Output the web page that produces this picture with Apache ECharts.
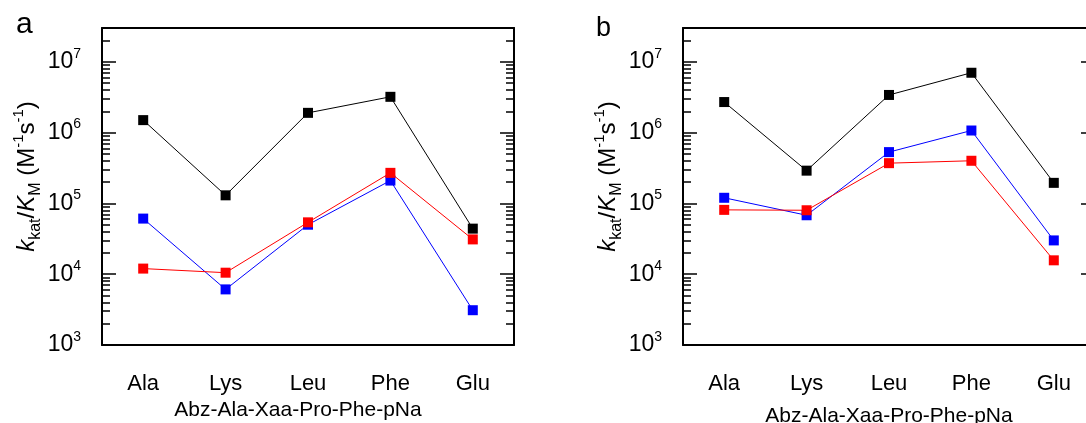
<!DOCTYPE html>
<html>
<head>
<meta charset="utf-8">
<script src="https://cdn.jsdelivr.net/npm/echarts@6/dist/echarts.min.js"></script>
<style>
  html, body { margin: 0; padding: 0; background: #fff; }
  #chart { width: 1086px; height: 423px; }
</style>
</head>
<body>
<div id="chart"></div>
<script>
// Substrate positions Xaa in Abz-Ala-Xaa-Pro-Phe-pNa
const categories = ['Ala', 'Lys', 'Leu', 'Phe', 'Glu'];

// kcat/KM (M^-1 s^-1), panel a
const aBlack = [1.5e6, 1.3e5, 1.9e6, 3.2e6, 4.4e4];
const aBlue  = [6.1e4, 6.1e3, 5.0e4, 2.1e5, 3.1e3];
const aRed   = [1.2e4, 1.05e4, 5.4e4, 2.7e5, 3.1e4];

// kcat/KM (M^-1 s^-1), panel b
const bBlack = [2.7e6, 2.9e5, 3.4e6, 7.0e6, 1.95e5];
const bBlue  = [1.2e5, 6.8e4, 5.3e5, 1.07e6, 3.0e4];
const bRed   = [8.1e4, 8.0e4, 3.7e5, 4.0e5, 1.57e4];

// Log axis range and tick values
const yMin = 1e3;
const yMax = 3e7;
const decadeTicks = [1e3, 1e4, 1e5, 1e6, 1e7];
const minorTicks = [];
for (let e = 3; e <= 7; e++) {
  for (let m = 2; m <= 9; m++) {
    const v = m * Math.pow(10, e);
    if (v <= yMax) minorTicks.push(v);
  }
}

const FONT = 'Liberation Sans, Arial, Helvetica, sans-serif';
const AXIS_W = 2;
const TICK_W = 1.5;

const yTitle = '{i|k}{sub|kat}{n|/}{i|K}{sub|M}{n| (M}{sup|-1}{n|s}{sup|-1}{n|)}';
const yTitleRich = {
  i:   { fontFamily: FONT, fontSize: 24, fontStyle: 'italic', color: '#000', lineHeight: 32 },
  n:   { fontFamily: FONT, fontSize: 24, color: '#000', lineHeight: 32 },
  sub: { fontFamily: FONT, fontSize: 16, color: '#000', verticalAlign: 'bottom', lineHeight: 20 },
  sup: { fontFamily: FONT, fontSize: 15, color: '#000', verticalAlign: 'top', lineHeight: 18 }
};

// Fixed plot boxes; the right panel's frame runs just past the canvas edge
const grids = [
  { left: 102, top: 28, width: 412, height: 317, outerBoundsMode: 'none', containLabel: false },
  { left: 683, top: 28, width: 412, height: 317, outerBoundsMode: 'none', containLabel: false }
];

const xAxes = [];
const yAxes = [];
const series = [];

function addPanel(gi, black, blue, red, nameGap, namePad) {
  // bottom category axis
  xAxes.push({
    gridIndex: gi, type: 'category', data: categories, position: 'bottom',
    boundaryGap: true,
    axisLine: { lineStyle: { color: '#000', width: AXIS_W } },
    axisTick: { inside: true, length: 12, interval: 0, lineStyle: { color: '#000', width: TICK_W } },
    axisLabel: { interval: 0, margin: 28, color: '#000', fontFamily: FONT, fontSize: 22 },
    name: 'Abz-Ala-Xaa-Pro-Phe-pNa', nameLocation: 'middle', nameGap: nameGap,
    nameTextStyle: { color: '#000', fontFamily: FONT, fontSize: 21, padding: namePad },
    splitLine: { show: false }
  });
  // top frame with boundary ticks
  xAxes.push({
    gridIndex: gi, type: 'category', data: categories, position: 'top',
    boundaryGap: true,
    axisLine: { lineStyle: { color: '#000', width: AXIS_W } },
    axisTick: { inside: true, length: 12, interval: 0, lineStyle: { color: '#000', width: TICK_W } },
    axisLabel: { show: false },
    splitLine: { show: false }
  });
  const yBase = { gridIndex: gi, type: 'log', logBase: 10, min: yMin, max: yMax, splitLine: { show: false } };
  const mainIdx = yAxes.length;
  // left axis: decades with labels
  yAxes.push(Object.assign({}, yBase, {
    position: 'left',
    axisLine: { show: true, lineStyle: { color: '#000', width: AXIS_W } },
    axisTick: { show: true, inside: true, length: 14, customValues: decadeTicks, lineStyle: { color: '#000', width: TICK_W } },
    axisLabel: {
      customValues: decadeTicks, margin: 21,
      formatter: v => '{b|10}{s|' + Math.round(Math.log10(v)) + '}',
      rich: {
        b: { fontFamily: FONT, fontSize: 23, color: '#000', lineHeight: 30 },
        s: { fontFamily: FONT, fontSize: 14, color: '#000', verticalAlign: 'top', lineHeight: 18 }
      }
    },
    name: yTitle, nameLocation: 'middle', nameRotate: 90, nameGap: 58,
    nameTextStyle: { rich: yTitleRich, padding: [0, 0, 0, 20] }
  }));
  // left axis: minor ticks
  yAxes.push(Object.assign({}, yBase, {
    position: 'left',
    axisLine: { show: false },
    axisTick: { show: true, inside: true, length: 8, customValues: minorTicks, lineStyle: { color: '#000', width: TICK_W } },
    axisLabel: { show: false }
  }));
  // right axis: decades
  yAxes.push(Object.assign({}, yBase, {
    position: 'right',
    axisLine: { show: true, lineStyle: { color: '#000', width: AXIS_W } },
    axisTick: { show: true, inside: true, length: 14, customValues: decadeTicks, lineStyle: { color: '#000', width: TICK_W } },
    axisLabel: { show: false }
  }));
  // right axis: minor ticks
  yAxes.push(Object.assign({}, yBase, {
    position: 'right',
    axisLine: { show: false },
    axisTick: { show: true, inside: true, length: 8, customValues: minorTicks, lineStyle: { color: '#000', width: TICK_W } },
    axisLabel: { show: false }
  }));

  const xIdx = gi * 2;
  [[black, '#000000'], [blue, '#0000ff'], [red, '#ff0000']].forEach(([vals, col]) => {
    series.push({
      type: 'line', xAxisIndex: xIdx, yAxisIndex: mainIdx, data: vals,
      symbol: 'rect', symbolSize: 10, showSymbol: true,
      lineStyle: { color: col, width: 1 },
      itemStyle: { color: col },
      animation: false, silent: true
    });
  });
}

addPanel(0, aBlack, aBlue, aRed, 54, [0, 20, 0, 0]);
addPanel(1, bBlack, bBlue, bRed, 61, [0, 0, 0, 0]);

const chart = echarts.init(document.getElementById('chart'), null, { renderer: 'canvas' });
chart.setOption({
  animation: false,
  backgroundColor: '#fff',
  grid: grids,
  xAxis: xAxes,
  yAxis: yAxes,
  series: series,
  graphic: [
    { type: 'text', left: 16, top: 10, style: { text: 'a', fontFamily: FONT, fontSize: 30, fill: '#000' } },
    { type: 'text', left: 596, top: 15, style: { text: 'b', fontFamily: FONT, fontSize: 27, fill: '#000' } }
  ]
});
</script>
</body>
</html>
